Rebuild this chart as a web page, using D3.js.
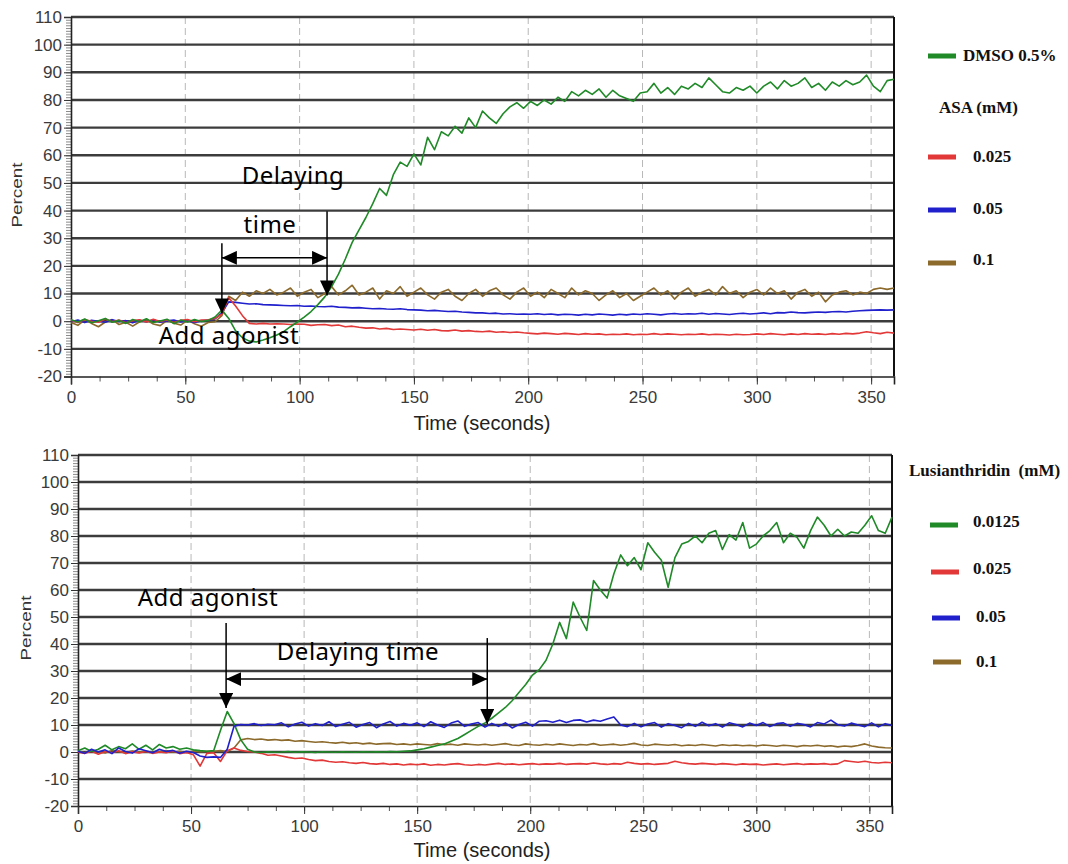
<!DOCTYPE html>
<html>
<head>
<meta charset="utf-8">
<script src="https://cdn.jsdelivr.net/npm/d3@7"></script>
<style>
  body { margin: 0; background: #fff; }
  svg { display: block; }
</style>
</head>
<body>
<div id="hook-aggregation"></div>
<script>
'use strict';

// one sample every 3 s, t = 0 .. 360
var sampleStep = 3;

var yTicks = [-20, -10, 0, 10, 20, 30, 40, 50, 60, 70, 80, 90, 100, 110];
var xTicks = [0, 50, 100, 150, 200, 250, 300, 350];

var topLabels = ['DMSO 0.5%', '0.025', '0.05', '0.1'];
var topHeader = 'ASA (mM)';
var bottomLabels = ['0.0125', '0.025', '0.05', '0.1'];
var bottomHeader = 'Lusianthridin  (mM)';

// ---- top panel: DMSO + ASA
var topGreen = [
  0.5, -0.3, 0.8, -0.6, 0.2, 1.0, -0.4, 0.3, -0.8, 0.6,
  -0.2, 0.9, -0.5, 0.1, 0.7, -0.9, 0.4, -0.3, 0.6, -0.1,
  0.3, 1.5, 4.0, 1.0, -3.5, -6.0, -7.2, -7.5, -6.8, -6.0,
  -5.0, -3.8, -2.0, -0.3, 1.5, 3.5, 6.0, 8.8, 12.5, 17.0,
  22.5, 28.5, 33.0, 37.5, 42.5, 48.0, 45.5, 53.0, 57.5, 56.0,
  60.5, 56.5, 66.5, 62.0, 68.5, 67.0, 70.5, 68.0, 73.5, 70.0,
  76.0, 73.5, 71.5, 75.0, 77.5, 79.0, 77.0, 79.5, 78.0, 80.0,
  78.5, 81.0, 79.5, 83.0, 81.5, 83.5, 82.0, 84.0, 81.0, 83.5,
  81.5, 80.5, 79.5, 82.5, 83.0, 86.0, 82.5, 84.5, 82.0, 85.0,
  84.0, 86.0, 84.5, 88.0, 85.5, 83.0, 82.5, 84.5, 83.5, 85.0,
  82.5, 85.0, 86.5, 84.0, 87.0, 85.0, 86.0, 88.0, 84.5, 86.0,
  83.5, 86.5, 85.0, 87.0, 85.5, 86.5, 89.0, 85.0, 83.0, 87.0,
  87.5
];
var topRed = [
  0.3, -0.5, 0.6, 0.0, -0.4, 0.8, -0.2, 0.4, -0.6, 0.2,
  0.5, -0.3, 0.7, -0.1, 0.4, -0.5, 0.3, 0.6, -0.2, 0.4,
  0.5, 1.0, 2.5, 8.5, 5.5, 2.0, -0.8, -1.0, -0.8, -1.0,
  -0.9, -1.0, -1.2, -1.0, -1.1, -1.5, -1.3, -1.2, -1.6, -1.4,
  -2.0, -1.8, -2.2, -2.5, -2.4, -2.8, -2.6, -3.0, -2.8, -3.0,
  -3.2, -2.9, -3.3, -3.0, -3.4, -3.5, -3.2, -3.6, -3.4, -3.7,
  -3.8, -3.6, -4.0, -3.8, -4.1, -3.9, -4.2, -4.4, -4.6, -4.3,
  -4.5, -4.7, -4.4, -4.6, -4.8, -4.5, -4.7, -4.6, -4.9, -4.7,
  -4.8, -4.6, -4.9, -4.7, -4.8, -4.5, -4.8, -4.6, -4.7, -4.9,
  -4.7, -4.8, -4.6, -4.9, -4.7, -4.8, -5.0, -4.7, -4.9, -4.8,
  -4.6, -4.8, -4.5, -4.7, -4.9, -4.6, -4.8, -4.5, -4.7, -4.6,
  -4.8, -4.5, -4.7, -4.4, -4.6, -4.3, -3.8, -4.2, -4.5, -4.0,
  -4.3
];
var topBlue = [
  -0.2, 0.4, -0.5, 0.3, 0.0, -0.4, 0.5, -0.1, 0.2, -0.6,
  0.3, -0.2, 0.5, -0.4, 0.1, 0.4, -0.3, 0.2, -0.5, 0.1,
  0.4, 0.8, 3.0, 7.0, 6.8, 6.5, 6.2, 6.3, 6.0, 5.9,
  5.8, 5.7, 5.6, 5.7, 5.4, 5.5, 5.3, 5.2, 5.4, 5.1,
  5.0, 4.8, 4.9, 4.7, 4.5, 4.6, 4.4, 4.3, 4.5, 4.2,
  4.1, 4.0, 3.8, 3.9, 3.7, 3.5, 3.6, 3.3, 3.2, 3.0,
  3.0, 2.8, 2.9, 2.6, 2.7, 2.5, 2.6, 2.5, 2.7, 2.4,
  2.6, 2.3, 2.5, 2.4, 2.2, 2.5, 2.3, 2.6, 2.4, 2.2,
  2.5, 2.3, 2.6, 2.4, 2.7, 2.5, 2.3, 2.6, 2.8, 2.5,
  2.7, 2.6, 2.9, 2.5, 2.8, 2.6, 2.4, 2.7, 2.9, 2.6,
  2.8, 3.0, 2.7, 3.1, 3.0, 3.3, 3.1, 3.0, 3.2, 3.3,
  3.2, 3.4, 3.5, 3.3, 3.6, 3.8, 3.9, 4.0, 4.1, 4.0,
  4.1
];
var topBrown = [
  -0.5, -1.5, 0.5, -0.8, -2.0, -0.3, 0.6, -1.2, -0.4, -1.8,
  -0.2, 0.5, -1.0, -1.6, 0.3, -0.7, -1.4, 0.4, -0.9, -1.8,
  -0.5, -0.2, 2.0, 9.0, 7.5, 10.5, 9.0, 11.0, 10.0, 11.5,
  9.5, 10.5, 12.0, 9.0, 10.5, 11.5, 8.5, 10.0, 12.5, 9.5,
  11.0, 13.0, 9.5, 10.5, 12.0, 8.0, 11.0, 10.0, 12.5, 9.0,
  10.5, 12.0, 9.5, 8.0, 10.5, 11.5, 9.0, 7.5, 10.0, 11.5,
  9.0, 11.0, 12.0, 9.5, 8.0, 10.5, 12.0, 9.0, 10.5, 8.5,
  11.5, 10.0, 8.5, 12.0, 9.5, 11.0, 10.0, 7.5, 9.5, 11.0,
  8.5, 10.0, 7.5, 9.0, 10.5, 12.0, 9.5, 11.0, 8.0, 10.5,
  12.0, 9.0, 10.5, 11.5, 9.5, 12.5, 10.0, 11.0, 8.5, 10.5,
  11.5, 9.5, 12.0, 10.0, 11.0, 8.0, 10.5, 11.5, 9.0, 10.5,
  7.0, 9.5, 10.5, 11.0, 9.5, 10.5, 10.0, 11.5, 12.0, 11.5,
  12.0
];

// ---- bottom panel: Lusianthridin
var botGreen = [
  0.5, 1.5, 0.2, 1.0, 2.5, 0.8, 2.0, 1.2, 3.0, 1.0,
  2.5, 0.8, 2.8, 1.5, 2.0, 1.0, 1.5, 0.8, 0.5, 0.3,
  0.5, 8.0, 15.0, 10.5, 4.5, 1.0, 0.0, -0.2, 0.1, -0.1,
  0.0, 0.2, -0.1, 0.1, 0.0, -0.2, 0.1, 0.0, -0.1, 0.1,
  0.0, -0.1, 0.1, 0.0, 0.1, 0.0, 0.2, 0.1, 0.3, 0.4,
  0.8, 1.2, 1.8, 2.4, 3.0, 4.0, 5.0, 6.5, 8.0, 9.5,
  10.8, 12.5, 14.5, 16.5, 19.0, 22.0, 25.0, 28.5, 30.5, 34.0,
  40.0, 48.0, 42.0, 55.5, 50.0, 45.0, 63.5, 60.0, 57.0, 66.0,
  73.0, 69.0, 72.0, 67.5, 77.5, 74.0, 71.0, 61.0, 72.0, 77.0,
  78.0, 80.0, 77.5, 81.0, 82.0, 75.0, 80.5, 78.5, 85.0, 75.5,
  77.0, 80.0, 82.0, 85.0, 77.5, 81.0, 79.5, 75.5, 82.0, 87.0,
  84.0, 80.0, 82.5, 80.0, 81.5, 81.0, 84.0, 87.5, 82.0, 81.0,
  87.0
];
var botRed = [
  0.0, -0.5, 0.3, -0.8, 0.2, -0.3, 0.5, -0.6, 0.1, -0.4,
  0.2, -0.5, 0.0, -0.3, 0.4, -0.6, -0.2, -1.0, -5.2, -0.5,
  -0.3, -3.5, 0.5, 1.5, 0.6, 0.2, 0.0, -0.5, -1.2, -1.0,
  -1.5, -2.0, -2.4, -2.2, -2.8, -3.2, -3.0, -3.5, -3.8, -3.6,
  -4.0, -4.2, -3.9, -4.3, -4.5, -4.2, -4.6, -4.4, -4.8, -4.5,
  -4.7, -4.4, -4.9, -4.6, -4.8, -4.5, -4.3, -4.7, -4.9, -4.6,
  -4.8, -4.5, -4.2, -4.6, -4.4, -4.7, -4.5, -4.3, -4.6, -4.4,
  -4.5, -4.2, -4.6, -4.4, -4.3, -4.5, -4.1, -4.4, -4.6, -4.3,
  -4.5, -3.8, -4.2, -4.5, -4.3, -4.6, -4.4, -4.2, -3.4, -4.0,
  -4.3, -4.5, -4.2, -4.4, -4.6, -4.3, -4.5, -4.7, -4.4, -4.6,
  -4.5, -4.8, -4.6, -4.4, -4.7, -4.5, -4.3, -4.6, -4.4, -4.5,
  -4.3, -4.6, -4.4, -3.2, -3.5, -3.8, -3.4, -3.9, -4.1, -3.8,
  -4.0
];
var botBlue = [
  0.3, -0.5, 1.0, 0.0, 0.8, -0.6, 1.5, 0.2, -0.4, 1.2,
  0.5, -0.3, 1.0, 0.2, 0.6, -0.5, 0.3, -0.2, -1.5, -2.0,
  -1.8, -2.0, 1.0, 9.5, 10.2, 10.0, 10.5, 9.8, 10.3, 10.1,
  10.8, 9.3, 10.4, 11.0, 9.6, 10.5, 9.8, 11.2, 9.4, 10.3,
  11.0, 9.2, 10.2, 10.9, 9.0, 10.4, 11.3, 9.6, 10.6, 9.9,
  10.8, 9.4, 11.2, 10.0, 9.1, 10.7, 11.5, 9.5, 10.4, 10.9,
  9.2, 10.6, 9.5, 10.8, 8.9, 10.2, 11.0, 9.6, 11.4, 11.6,
  11.0, 11.8, 10.9, 11.7, 11.9, 11.1, 11.8, 11.4, 12.2, 13.0,
  10.0, 9.4, 10.6, 9.3, 10.4, 10.9, 9.2, 10.5, 9.8, 9.0,
  10.6, 9.5, 11.0, 9.7, 10.5, 9.2, 10.8, 10.2, 9.3, 10.7,
  9.8, 10.9, 9.4, 10.5, 10.8, 9.5, 10.6, 10.2, 9.3, 10.9,
  10.4, 11.8, 10.1, 9.6, 10.7, 10.0, 9.4, 10.8, 9.3, 10.5,
  9.8
];
var botBrown = [
  0.2, -0.3, 0.5, 0.0, -0.4, 0.6, 0.1, -0.2, 0.4, 0.0,
  0.3, -0.1, 0.2, 0.5, 0.0, 0.3, -0.2, 0.4, 0.1, 0.2,
  0.3, 0.5, 0.2, 1.5, 4.5, 5.0, 4.6, 4.8, 4.4, 4.6,
  4.3, 4.5, 4.0, 4.2, 3.9, 3.6, 3.8, 3.5, 3.3, 3.6,
  3.2, 3.4, 3.0, 3.3, 2.9, 3.1, 3.2, 2.8, 3.0, 2.7,
  3.0, 2.8, 2.6, 3.1, 2.7, 2.9, 2.5, 3.0, 2.8, 2.6,
  2.9, 2.5, 2.8, 3.1, 2.6, 2.4, 3.0, 2.7, 2.5, 2.9,
  2.6, 3.0, 2.7, 2.4, 2.8, 2.6, 3.1, 2.5, 2.7, 2.9,
  2.5, 2.8, 3.2, 2.6, 2.4, 2.9, 2.7, 2.5, 2.8, 2.3,
  2.6, 2.4, 2.8, 2.5, 2.2, 2.7, 2.4, 2.6, 2.3, 2.5,
  2.2, 2.6, 2.4, 2.1, 2.5, 2.3, 2.0, 2.4, 2.2, 2.5,
  2.1, 2.3, 1.9, 2.2, 2.0, 2.4, 3.0, 2.2, 1.8, 1.6,
  1.5
];

// annotation arrows, in data units [t, percent]
var topArrows = [
  { from: [66, 28.2], to: [66, 2.8] },
  { from: [112, 39.8], to: [112, 9.3] }
];
var topSpan = { t0: 66, t1: 112, v: 22.9 };
var botArrows = [
  { from: [65.5, 47.8], to: [65.5, 16.3] },
  { from: [181, 42.2], to: [181, 10.4] }
];
var botSpan = { t0: 65.5, t1: 181, v: 27 };

(function() {

var colors = {
  green: '#1f8a27',
  red: '#e23838',
  blue: '#2020cc',
  brown: '#8c6a2c'
};

var svg = d3.select('#hook-aggregation')
  .append('svg')
  .attr('width', 1068)
  .attr('height', 864)
  .style('font-family', '"Liberation Sans", Arial, sans-serif');

var defs = svg.append('defs');
defs.append('marker')
  .attr('id', 'head')
  .attr('viewBox', '0 -7 15 14')
  .attr('refX', 15)
  .attr('refY', 0)
  .attr('markerUnits', 'userSpaceOnUse')
  .attr('markerWidth', 15)
  .attr('markerHeight', 14)
  .attr('orient', 'auto-start-reverse')
  .append('path')
  .attr('d', 'M0,-7L15,0L0,7Z')
  .attr('fill', '#000');

function panel(opt) {
  var x = d3.scaleLinear().domain([0, 360]).range(opt.xr);
  var y = d3.scaleLinear().domain([-20, 110]).range(opt.yr);
  var g = svg.append('g');

  // vertical dashed grid
  g.selectAll('.vgrid')
    .data(xTicks.slice(1))
    .enter().append('line')
    .attr('x1', function(d) { return x(d); })
    .attr('x2', function(d) { return x(d); })
    .attr('y1', y(110))
    .attr('y2', y(-20))
    .style('stroke', '#b8b8b8')
    .style('stroke-width', 1)
    .style('stroke-dasharray', '7,4');

  // heavy horizontal grid
  g.selectAll('.hgrid')
    .data(yTicks.slice(1))
    .enter().append('line')
    .attr('x1', x(0))
    .attr('x2', x(360))
    .attr('y1', function(d) { return y(d); })
    .attr('y2', function(d) { return y(d); })
    .style('stroke', '#3c3c3c')
    .style('stroke-width', 2.4);

  // right frame
  g.append('line')
    .attr('x1', x(360)).attr('x2', x(360))
    .attr('y1', y(110)).attr('y2', y(-20))
    .style('stroke', '#111')
    .style('stroke-width', 2);

  // minor ticks
  var yMinor = g.append('g')
    .attr('transform', 'translate(' + x(0) + ',0)')
    .call(d3.axisLeft(y).tickValues(d3.range(-20, 111, 1)).tickSize(5).tickFormat(''));
  yMinor.selectAll('line').style('stroke', '#8a8a8a');
  yMinor.select('.domain').remove();

  var xMinor = g.append('g')
    .attr('transform', 'translate(0,' + y(-20) + ')')
    .call(d3.axisBottom(x).tickValues(d3.range(0, 360, 12.5)).tickSize(5).tickFormat(''));
  xMinor.selectAll('line').style('stroke', '#555');
  xMinor.select('.domain').remove();

  // major axes
  var yAxis = g.append('g')
    .attr('transform', 'translate(' + x(0) + ',0)')
    .call(d3.axisLeft(y).tickValues(yTicks).tickSize(7).tickPadding(2)
      .tickFormat(function(d) { return String(d); }));
  var xAxis = g.append('g')
    .attr('transform', 'translate(0,' + y(-20) + ')')
    .call(d3.axisBottom(x).tickValues(xTicks).tickSize(8).tickPadding(6));

  [yAxis, xAxis].forEach(function(a) {
    a.select('.domain').style('stroke', '#222').style('stroke-width', 1.6);
    a.selectAll('line').style('stroke', '#333');
    a.selectAll('text')
      .style('font-size', '17px')
      .style('fill', '#3a3a3a')
      .style('font-family', '"Liberation Sans", Arial, sans-serif');
  });

  // axis titles
  g.append('text')
    .attr('transform', 'translate(' + opt.percentPos[0] + ',' + opt.percentPos[1] + ') rotate(-90) scale(1.35,1)')
    .attr('text-anchor', 'middle')
    .attr('dy', '0.35em')
    .style('font-size', '14px')
    .style('fill', '#333')
    .text('Percent');

  g.append('text')
    .attr('x', opt.timePos[0])
    .attr('y', opt.timePos[1])
    .attr('text-anchor', 'middle')
    .style('font-size', '20px')
    .style('fill', '#222')
    .text('Time (seconds)');

  // series
  var line = d3.line()
    .x(function(d, i) { return x(i * sampleStep); })
    .y(function(d) { return y(d); });

  opt.series.forEach(function(s) {
    g.append('path')
      .datum(s.values)
      .attr('d', line)
      .style('fill', 'none')
      .style('stroke', s.color)
      .style('stroke-width', 1.6)
      .style('stroke-linejoin', 'round');
  });

  // arrows
  opt.arrows.forEach(function(a) {
    g.append('line')
      .attr('x1', x(a.from[0])).attr('y1', y(a.from[1]))
      .attr('x2', x(a.to[0])).attr('y2', y(a.to[1]))
      .attr('marker-end', 'url(#head)')
      .style('stroke', '#000')
      .style('stroke-width', 1.5);
  });
  g.append('line')
    .attr('x1', x(opt.span.t0)).attr('x2', x(opt.span.t1))
    .attr('y1', y(opt.span.v)).attr('y2', y(opt.span.v))
    .attr('marker-start', 'url(#head)')
    .attr('marker-end', 'url(#head)')
    .style('stroke', '#000')
    .style('stroke-width', 1.5);

  opt.notes.forEach(function(n) {
    g.append('text')
      .attr('x', n.x)
      .attr('y', n.y)
      .attr('text-anchor', 'middle')
      .style('font-family', '"Noto Sans", sans-serif')
      .style('font-size', '24px')
      .style('letter-spacing', '0.5px')
      .style('fill', '#000')
      .text(n.text);
  });

  // legend
  var leg = svg.append('g')
    .style('font-family', '"Liberation Serif", "Times New Roman", serif')
    .style('font-weight', 'bold')
    .style('font-size', '17px')
    .style('fill', '#111');

  leg.append('text')
    .attr('x', opt.header.x)
    .attr('y', opt.header.y)
    .attr('dy', '0.35em')
    .style('white-space', 'pre')
    .text(opt.header.text);

  opt.legend.forEach(function(l) {
    leg.append('line')
      .attr('x1', l.lx).attr('x2', l.lx + 28)
      .attr('y1', l.y).attr('y2', l.y)
      .style('stroke', l.color)
      .style('stroke-width', 5);
    leg.append('text')
      .attr('x', l.tx)
      .attr('y', l.ty)
      .attr('dy', '0.35em')
      .text(l.text);
  });
}

panel({
  xr: [71, 894],
  yr: [376.5, 17],
  percentPos: [17, 195],
  timePos: [482, 430],
  series: [
    { values: topBrown, color: colors.brown },
    { values: topBlue, color: colors.blue },
    { values: topRed, color: colors.red },
    { values: topGreen, color: colors.green }
  ],
  arrows: topArrows,
  span: topSpan,
  notes: [
    { text: 'Delaying', x: 293, y: 184 },
    { text: 'time', x: 270, y: 233 },
    { text: 'Add agonist', x: 229, y: 344 }
  ],
  header: { text: topHeader, x: 939, y: 107 },
  legend: [
    { text: topLabels[0], color: colors.green, lx: 928, y: 56, tx: 963, ty: 55 },
    { text: topLabels[1], color: colors.red, lx: 928, y: 157, tx: 973, ty: 156 },
    { text: topLabels[2], color: colors.blue, lx: 928, y: 210, tx: 973, ty: 208 },
    { text: topLabels[3], color: colors.brown, lx: 928, y: 263, tx: 973, ty: 259 }
  ]
});

panel({
  xr: [78, 892],
  yr: [806, 455],
  percentPos: [26, 628],
  timePos: [482, 857],
  series: [
    { values: botBrown, color: colors.brown },
    { values: botRed, color: colors.red },
    { values: botGreen, color: colors.green },
    { values: botBlue, color: colors.blue }
  ],
  arrows: botArrows,
  span: botSpan,
  notes: [
    { text: 'Add agonist', x: 208, y: 606 },
    { text: 'Delaying time', x: 358, y: 660 }
  ],
  header: { text: bottomHeader, x: 909, y: 470 },
  legend: [
    { text: bottomLabels[0], color: colors.green, lx: 930, y: 525, tx: 973, ty: 521 },
    { text: bottomLabels[1], color: colors.red, lx: 931, y: 572, tx: 973, ty: 568 },
    { text: bottomLabels[2], color: colors.blue, lx: 932, y: 618, tx: 976, ty: 616 },
    { text: bottomLabels[3], color: colors.brown, lx: 933, y: 662, tx: 976, ty: 661 }
  ]
});

}());
</script>
</body>
</html>
